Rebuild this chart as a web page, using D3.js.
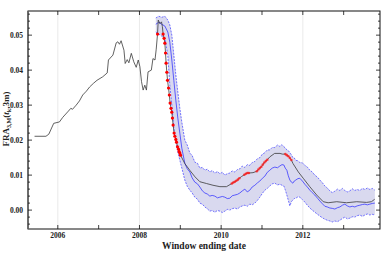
<!doctype html>
<html>
<head>
<meta charset="utf-8">
<title>FRA window chart</title>
<script src="https://d3js.org/d3.v7.min.js"></script>
<style>
  body { margin:0; background:#fff; }
  text { font-family: "Liberation Serif", "DejaVu Serif", serif; font-weight:bold; }
</style>
</head>
<body>
<script>
var w = 382, h = 254;

// realised series (black)
var blackT = [2005.43,2005.71,2005.78,2005.90,2006.04,2006.12,2006.26,2006.32,2006.36,2006.45,2006.53,2006.61,2006.70,2006.78,2006.87,2006.96,
  2007.10,2007.21,2007.24,2007.35,2007.43,2007.47,2007.51,2007.55,2007.62,2007.65,2007.70,2007.74,2007.80,2007.86,2007.92,2007.97,
  2008.01,2008.05,2008.09,2008.13,2008.17,2008.21,2008.29,2008.33,2008.38,2008.41,2008.442,2008.46,2008.50,2008.54,2008.56,
  2008.579,2008.603,2008.621,2008.638,2008.652,2008.670,2008.687,2008.711,2008.731,2008.750,2008.772,2008.792,2008.807,2008.824,
  2008.848,2008.866,2008.890,2008.907,2008.932,2008.956,2008.971,2008.988,2009.005,
  2009.11,2009.23,2009.36,2009.48,2009.64,2009.80,2009.97,2010.13,
  2010.262,2010.298,2010.335,2010.372,2010.409,2010.445,2010.50,
  2010.568,2010.605,2010.642,2010.678,2010.78,
  2010.874,2010.911,2010.947,2010.984,2011.021,2011.058,2011.094,2011.131,
  2011.19,2011.31,2011.44,2011.50,
  2011.572,2011.609,2011.646,2011.682,2011.719,
  2011.76,2011.89,2012.01,2012.17,2012.34,2012.50,2012.62,2012.83,2013.07,2013.32,2013.56,2013.68,2013.76];
var blackV = [0.0211,0.0211,0.0217,0.0248,0.0252,0.0265,0.0283,0.0291,0.0288,0.0300,0.0312,0.0329,0.0340,0.0352,0.0362,0.0371,
  0.0381,0.0392,0.0429,0.0443,0.0478,0.0481,0.0474,0.0484,0.0457,0.0419,0.0430,0.0421,0.0448,0.0424,0.0408,0.0429,
  0.0410,0.0367,0.0343,0.0357,0.0343,0.0395,0.0400,0.0433,0.0429,0.0460,0.0503,0.0543,0.0533,0.0538,0.0525,
  0.0503,0.0491,0.0477,0.0449,0.0420,0.0394,0.0371,0.0349,0.0329,0.0306,0.0291,0.0280,0.0263,0.0243,
  0.0220,0.0211,0.0202,0.0194,0.0181,0.0174,0.0167,0.0163,0.0157,
  0.0133,0.0114,0.0095,0.0081,0.0076,0.0071,0.0067,0.0067,
  0.0076,0.0079,0.0081,0.0084,0.0087,0.0091,0.0096,
  0.0101,0.0104,0.0106,0.0106,0.0107,
  0.0111,0.0116,0.0120,0.0124,0.0130,0.0136,0.0140,0.0144,
  0.0152,0.0162,0.0162,0.0160,
  0.0160,0.0157,0.0154,0.0149,0.0143,
  0.0133,0.0109,0.0091,0.0067,0.0043,0.0024,0.0021,0.0024,0.0021,0.0024,0.0022,0.0024,0.0031];

// points where the realised value is flagged (red): crash, then small clusters
var redT = [2008.442,2008.579,2008.603,2008.621,2008.638,2008.652,2008.670,2008.687,2008.711,2008.731,2008.750,2008.772,2008.792,
  2008.807,2008.824,2008.848,2008.866,2008.890,2008.907,2008.932,2008.956,2008.971,2008.988,2009.005];
var redV = [0.0503,0.0503,0.0491,0.0477,0.0449,0.0420,0.0394,0.0371,0.0349,0.0329,0.0306,0.0291,0.0280,
  0.0263,0.0243,0.0220,0.0211,0.0202,0.0194,0.0181,0.0174,0.0167,0.0163,0.0157];
var red2T = [2010.262,2010.298,2010.335,2010.372,2010.409,2010.445,
  2010.568,2010.605,2010.642,2010.678,
  2010.874,2010.911,2010.947,2010.984,2011.021,2011.058,2011.094,2011.131,
  2011.572,2011.609,2011.646,2011.682,2011.719];
var red2V = [0.0076,0.0079,0.0081,0.0084,0.0087,0.0091,
  0.0101,0.0104,0.0106,0.0106,
  0.0111,0.0116,0.0120,0.0124,0.0130,0.0136,0.0140,0.0144,
  0.0160,0.0157,0.0154,0.0149,0.0143];

// model band: upper, middle, lower
var bandT = [2008.400,2008.474,2008.547,2008.621,2008.694,2008.743,2008.792,2008.841,2008.890,2008.939,2008.988,2009.037,
  2009.110,2009.17,2009.233,2009.29,2009.355,2009.42,2009.478,2009.54,2009.600,2009.66,2009.723,2009.78,2009.845,2009.91,
  2009.968,2010.03,2010.090,2010.15,2010.213,2010.27,2010.335,2010.40,2010.458,2010.52,2010.580,2010.64,2010.702,2010.76,
  2010.825,2010.89,2010.947,2011.01,2011.070,2011.13,2011.192,2011.25,2011.315,2011.38,2011.437,2011.49,2011.535,2011.57,
  2011.609,2011.645,2011.682,2011.72,2011.756,2011.79,2011.829,2011.88,2011.927,2011.99,2012.049,2012.11,2012.172,2012.23,
  2012.294,2012.36,2012.417,2012.48,2012.539,2012.60,2012.662,2012.72,2012.784,2012.85,2012.907,2012.97,2013.029,2013.09,
  2013.152,2013.21,2013.274,2013.33,2013.396,2013.46,2013.519,2013.58,2013.641,2013.70,2013.764];
var upperV = [0.0549,0.0554,0.0551,0.0554,0.0543,0.0529,0.0500,0.0443,0.0386,0.0337,0.0291,0.0251,
  0.0200,0.0186,0.0163,0.0156,0.0137,0.0134,0.0120,0.0122,0.0114,0.0117,0.0109,0.0113,0.0106,0.0110,
  0.0104,0.0108,0.0100,0.0104,0.0106,0.0112,0.0109,0.0116,0.0118,0.0126,0.0122,0.0130,0.0128,0.0136,
  0.0139,0.0147,0.0150,0.0160,0.0164,0.0172,0.0172,0.0179,0.0179,0.0186,0.0182,0.0187,0.0181,0.0178,
  0.0172,0.0170,0.0164,0.0158,0.0150,0.0149,0.0142,0.0141,0.0136,0.0135,0.0128,0.0123,0.0114,0.0109,
  0.0100,0.0094,0.0086,0.0078,0.0069,0.0063,0.0055,0.0050,0.0054,0.0060,0.0056,0.0062,0.0056,0.0052,
  0.0055,0.0061,0.0056,0.0059,0.0056,0.0062,0.0059,0.0063,0.0059,0.0062,0.0057];
var midV = [0.0531,0.0537,0.0531,0.0526,0.0509,0.0480,0.0429,0.0371,0.0314,0.0263,0.0220,0.0177,
  0.0134,0.0118,0.0109,0.0092,0.0080,0.0075,0.0066,0.0055,0.0049,0.0046,0.0040,0.0042,0.0040,0.0035,
  0.0037,0.0039,0.0037,0.0033,0.0034,0.0041,0.0043,0.0045,0.0049,0.0055,0.0060,0.0052,0.0057,0.0066,
  0.0071,0.0078,0.0083,0.0091,0.0097,0.0108,0.0114,0.0120,0.0123,0.0121,0.0126,0.0130,0.0129,0.0120,
  0.0114,0.0098,0.0086,0.0080,0.0077,0.0083,0.0086,0.0090,0.0091,0.0083,0.0074,0.0066,0.0057,0.0050,
  0.0043,0.0034,0.0026,0.0018,0.0011,0.0009,0.0006,0.0005,0.0003,0.0007,0.0009,0.0014,0.0017,0.0012,
  0.0009,0.0011,0.0009,0.0012,0.0014,0.0016,0.0017,0.0015,0.0017,0.0019,0.0020];
var lowerV = [0.0509,0.0503,0.0497,0.0491,0.0443,0.0357,0.0300,0.0234,0.0200,0.0166,0.0143,0.0120,
  0.0086,0.0068,0.0057,0.0049,0.0037,0.0031,0.0020,0.0017,0.0009,0.0004,-0.0003,-0.0001,-0.0006,-0.0001,
  -0.0003,-0.0007,-0.0003,0.0002,0.0000,0.0004,0.0006,0.0003,0.0009,0.0012,0.0014,0.0011,0.0017,0.0015,
  0.0020,0.0028,0.0037,0.0048,0.0057,0.0062,0.0069,0.0075,0.0077,0.0072,0.0074,0.0071,0.0069,0.0058,
  0.0043,0.0028,0.0012,0.0024,0.0029,0.0033,0.0034,0.0038,0.0037,0.0030,0.0023,0.0014,0.0006,0.0000,
  -0.0006,-0.0012,-0.0017,-0.0022,-0.0026,-0.0029,-0.0031,-0.0034,-0.0031,-0.0033,-0.0029,-0.0024,-0.0020,-0.0025,
  -0.0023,-0.0019,-0.0020,-0.0016,-0.0014,-0.0018,-0.0014,-0.0011,-0.0014,-0.0012,-0.0014];

var yearTicks = [2006,2007,2008,2009,2010,2011,2012,2013];
var yearLabels = [2006,2008,2010,2012];
var yMajor = [0.00,0.01,0.02,0.03,0.04,0.05];

var padL = 28, padR = 380, padT = 11, padB = 229;

var x = d3.scaleLinear().domain([2005.27, 2013.89]).range([padL, padR]);
var y = d3.scaleLinear().domain([-0.0054, 0.0569]).range([padB, padT]);

var svg = d3.select("body").append("svg")
  .attr("width", w).attr("height", h);

// grid lines
svg.selectAll(".grid").data(yearLabels).enter().append("line")
  .attr("x1", d => x(d)).attr("x2", d => x(d))
  .attr("y1", padT).attr("y2", padB)
  .attr("stroke", "#e4e4e4").attr("stroke-width", 0.8);

// band
var band = bandT.map(function(t, i){ return {t:t, u:upperV[i], m:midV[i], l:lowerV[i]}; });
svg.append("path").datum(band)
  .attr("d", d3.area().x(d => x(d.t)).y0(d => y(d.l)).y1(d => y(d.u)))
  .attr("fill", "#d9d9ef");

function lineOf(key){ return d3.line().x(d => x(d.t)).y(d => y(d[key])); }
["u","l"].forEach(function(k){
  svg.append("path").datum(band)
    .attr("d", lineOf(k))
    .attr("fill", "none").attr("stroke", "#5050ff")
    .attr("stroke-width", 0.8).attr("stroke-dasharray", "2,1.2");
});
svg.append("path").datum(band)
  .attr("d", lineOf("m"))
  .attr("fill", "none").attr("stroke", "#3a3aff").attr("stroke-width", 0.8);

// realised line
var black = blackT.map(function(t, i){ return {t:t, v:blackV[i]}; });
svg.append("path").datum(black)
  .attr("d", d3.line().x(d => x(d.t)).y(d => y(d.v)))
  .attr("fill", "none").attr("stroke", "#3a3a3a").attr("stroke-width", 0.8);

// red markers
svg.selectAll(".red").data(redT).enter().append("circle")
  .attr("cx", d => x(d)).attr("cy", (d, i) => y(redV[i]))
  .attr("r", 1.6).attr("fill", "#ff0000");
svg.selectAll(".red2").data(red2T).enter().append("circle")
  .attr("cx", d => x(d)).attr("cy", (d, i) => y(red2V[i]))
  .attr("r", 1.3).attr("fill", "#ff1a1a").attr("opacity", 0.8);

// frame
svg.append("rect")
  .attr("x", padL).attr("y", padT).attr("width", padR - padL).attr("height", padB - padT)
  .attr("fill", "none").attr("stroke", "#111").attr("stroke-width", 1);
svg.append("line").attr("x1", padL).attr("x2", padL).attr("y1", padT).attr("y2", padB)
  .attr("stroke", "#666").attr("stroke-width", 1.6);

// ticks inside the frame
var yMinor = d3.range(-4, 57, 2).map(d => d / 1000);
yMinor.forEach(function(v){
  var major = Math.abs(Math.round(v * 100) - v * 100) < 1e-6;
  var len = major ? 4 : 2;
  svg.append("line").attr("x1", padL).attr("x2", padL + len).attr("y1", y(v)).attr("y2", y(v))
    .attr("stroke", "#111").attr("stroke-width", 0.8);
  svg.append("line").attr("x1", padR).attr("x2", padR - len).attr("y1", y(v)).attr("y2", y(v))
    .attr("stroke", "#111").attr("stroke-width", 0.8);
});
yearTicks.forEach(function(t){
  svg.append("line").attr("x1", x(t)).attr("x2", x(t)).attr("y1", padB).attr("y2", padB - 4)
    .attr("stroke", "#111").attr("stroke-width", 0.8);
  svg.append("line").attr("x1", x(t)).attr("x2", x(t)).attr("y1", padT).attr("y2", padT + 4)
    .attr("stroke", "#111").attr("stroke-width", 0.8);
});

// tick labels
svg.selectAll(".yl").data(yMajor).enter().append("text")
  .attr("x", 23).attr("y", d => y(d) + 2.5)
  .attr("text-anchor", "end").attr("font-size", 7.5).attr("fill", "#222")
  .text(d => d.toFixed(2));
svg.selectAll(".xl").data(yearLabels).enter().append("text")
  .attr("x", d => x(d)).attr("y", 238)
  .attr("text-anchor", "middle").attr("font-size", 7.5).attr("fill", "#222")
  .text(d => d);

// axis titles
svg.append("text").attr("x", 204).attr("y", 249)
  .attr("text-anchor", "middle").attr("font-size", 9.5).attr("fill", "#222")
  .text("Window ending date");

var yt = svg.append("text")
  .attr("transform", "translate(9,119) rotate(-90)")
  .attr("text-anchor", "middle").attr("font-size", 9).attr("fill", "#222");
yt.append("tspan").text("FRA");
yt.append("tspan").attr("font-size", 6).attr("dy", 2).text("3,M");
yt.append("tspan").attr("dy", -2).text("(");
yt.append("tspan").attr("font-style", "italic").text("t");
yt.append("tspan").attr("font-size", 6).attr("dy", 2).text("k");
yt.append("tspan").attr("dy", -2).text(",3m)");
</script>
</body>
</html>
